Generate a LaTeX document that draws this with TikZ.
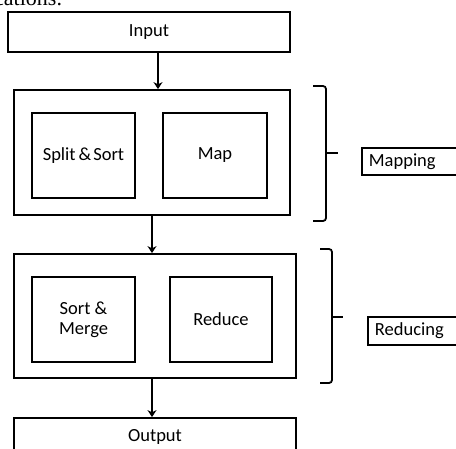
\documentclass[tikz,border=0pt]{standalone}
\usepackage{fontspec}
\setmainfont{Carlito}
\newfontfamily\capfont{Liberation Serif}
\usetikzlibrary{arrows.meta}
\begin{document}
\begin{tikzpicture}[x=1pt,y=-1pt,
        box/.style={draw, line width=1.8pt, inner sep=0pt, align=center},
        tag/.style={draw, line width=1.8pt, anchor=west, inner sep=0pt, text width=104pt, align=left, minimum height=27pt},
        arr/.style={line width=1.8pt, -{Stealth[length=7pt,width=9pt]}},
        brc/.style={line width=1.8pt, rounded corners=3pt}]
    \useasboundingbox (0,0) rectangle (456,448);
    \begin{scope}
        \clip (0,0) rectangle (456,448);
        \fontsize{18.5}{20}\selectfont
        \node[anchor=base west, inner sep=0pt, font=\capfont\fontsize{22}{24}\selectfont] (cap) at (-6,5) {cations.};
        % input and output
        \node[box, minimum width=282pt, minimum height=40pt] (input) at (149,32) {Input};
        \node[box, minimum width=282pt, minimum height=38pt] (output) at (155,437) {Output};
        % mapping stage
        \node[box, minimum width=276pt, minimum height=125pt] (maphull) at (152,152.5) {};
        \node[box, minimum width=103pt, minimum height=85pt] (split) at (83.5,155.5) {Split\kern3pt\&\kern2pt Sort};
        \node[box, minimum width=104pt, minimum height=85pt] (map) at (215,155.5) {Map};
        \node[tag] (mapping) at (361,161.5) {\hspace*{7pt}Mapping};
        % reducing stage
        \node[box, minimum width=282pt, minimum height=124pt] (redhull) at (155,316) {};
        \node[box, minimum width=103pt, minimum height=85pt] (merge) at (83.5,319.5) {Sort \&\\Merge};
        \node[box, minimum width=102pt, minimum height=85pt] (reduce) at (221,319.5) {Reduce};
        \node[tag, minimum height=28pt] (reducing) at (367,331) {\hspace*{7pt}Reducing};
        % arrows
        \draw[arr] ([xshift=9pt]input.south) -- ([xshift=6pt]maphull.north);
        \draw[arr] (maphull.south) -- ([xshift=-3pt]redhull.north);
        \draw[arr] ([xshift=-3pt]redhull.south) -- ([xshift=-3pt]output.north);
        % braces
        \draw[brc] (313,86) -- (326,86) -- (326,221) -- (313,221);
        \draw[line width=1.8pt] (326,153) -- (338,153);
        \draw[brc] (320,249) -- (332,249) -- (332,383) -- (320,383);
        \draw[line width=1.8pt] (332,317) -- (343,317);
    \end{scope}
\end{tikzpicture}
\end{document}
